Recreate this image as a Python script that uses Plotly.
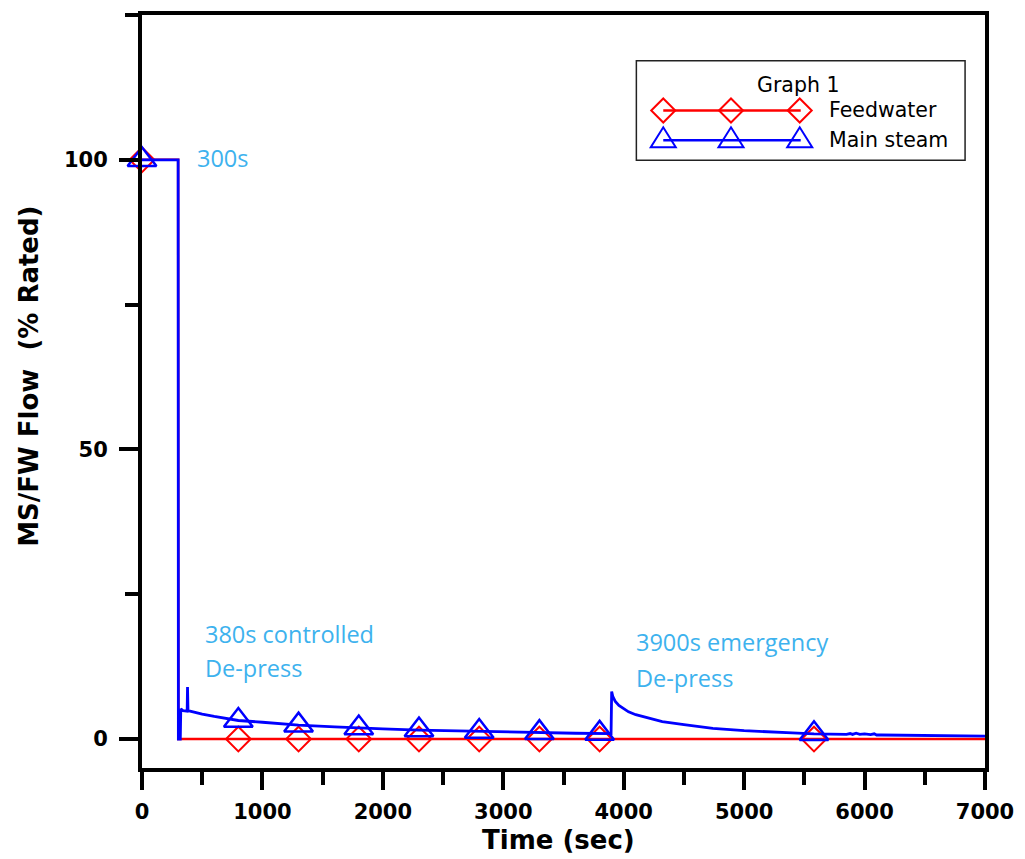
import plotly.graph_objects as go

# ---- data ----
fw_t = [0, 300, 302, 7000]
fw_v = [100, 100, 0, 0]

ms_t = [0, 300, 302, 318, 322, 340, 375, 378, 382, 400, 500, 600, 800, 1000, 1300, 1600,
        1800, 2000, 2300, 2600, 2800, 3000, 3300, 3600, 3895, 3900, 3910, 3930, 3960, 4000,
        4040, 4100, 4200, 4320, 4500, 4740, 5000, 5160, 5400, 5580, 5800, 5850, 5880, 5900,
        5930, 5960, 6000, 6050, 6080, 6100, 6140, 6500, 7000]
ms_v = [100, 100, 0, 0, 5.2, 4.9, 4.8, 9.0, 4.9, 4.8, 4.3, 3.9, 3.2, 2.9, 2.4, 2.1,
        1.9, 1.75, 1.55, 1.4, 1.3, 1.2, 1.1, 1.0, 0.95, 8.2, 7.3, 6.5, 5.8, 5.2,
        4.7, 4.2, 3.6, 3.0, 2.5, 1.85, 1.45, 1.25, 1.05, 0.9, 0.85, 0.8, 0.95, 0.8,
        1.0, 0.8, 0.9, 0.75, 0.9, 0.7, 0.7, 0.6, 0.5]

mk_t = [0, 800, 1300, 1800, 2300, 2800, 3300, 3800, 5580]
fw_mk = [100, 0, 0, 0, 0, 0, 0, 0, 0]
ms_mk = [100, 3.2, 2.4, 1.9, 1.55, 1.3, 1.1, 0.97, 0.9]

x_ticks = [0, 1000, 2000, 3000, 4000, 5000, 6000, 7000]
y_ticks = [0, 50, 100]

notes = [("300s", 441, 100.3), ("380s controlled", 507, 18.1), ("De-press", 507, 12.2),
         ("3900s emergency", 4087, 16.7), ("De-press", 4087, 10.5)]

RED = "#FF0000"
BLUE = "#0000FF"
NOTE = "#3DB2EE"

fig = go.Figure()
fig.add_trace(go.Scatter(x=fw_t, y=fw_v, mode="lines", line=dict(color=RED, width=2.5),
                         showlegend=False, cliponaxis=False))
fig.add_trace(go.Scatter(x=mk_t, y=fw_mk, mode="markers", showlegend=False, cliponaxis=False,
                         marker=dict(symbol="diamond-open", size=19, color=RED,
                                     line=dict(color=RED, width=2))))
fig.add_trace(go.Scatter(x=ms_t, y=ms_v, mode="lines", line=dict(color=BLUE, width=2.8),
                         showlegend=False, cliponaxis=False))
fig.add_trace(go.Scatter(x=mk_t, y=ms_mk, mode="markers", showlegend=False, cliponaxis=False,
                         marker=dict(symbol="triangle-up-open", size=25, color=BLUE,
                                     line=dict(color=BLUE, width=2.5))))

axis_font = dict(family="DejaVu Sans", size=21, color="black", weight="bold")

fig.update_layout(
    width=1025, height=859,
    margin=dict(l=142, r=37, t=11, b=91),
    plot_bgcolor="white", paper_bgcolor="white",
    xaxis=dict(range=[0, 7000], tickvals=x_ticks, ticktext=[str(v) for v in x_ticks],
               showgrid=False, zeroline=False, showline=True, mirror=True,
               linecolor="black", linewidth=4, ticks="outside", ticklen=18, tickwidth=4,
               tickcolor="black", tickfont=axis_font, ticklabelstandoff=4,
               minor=dict(dtick=500, tick0=0, ticks="outside", ticklen=13, tickwidth=4,
                          tickcolor="black", showgrid=False)),
    yaxis=dict(range=[-5, 125], tickvals=y_ticks, ticktext=[str(v) for v in y_ticks],
               showgrid=False, zeroline=False, showline=True, mirror=True,
               linecolor="black", linewidth=4, ticks="outside", ticklen=19, tickwidth=4,
               tickcolor="black", tickfont=axis_font, ticklabelstandoff=7,
               minor=dict(dtick=25, tick0=0, ticks="outside", ticklen=13, tickwidth=4,
                          tickcolor="black", showgrid=False)),
)

# axis titles
fig.add_annotation(text="Time (sec)", xref="paper", yref="paper", x=0.4943, y=-0.0951,
                   xanchor="center", yanchor="middle", showarrow=False,
                   font=dict(family="DejaVu Sans", size=26, color="black", weight="bold"))
fig.add_annotation(text="MS/FW Flow\u00a0 (% Rated)", xref="paper", yref="paper",
                   x=-0.1343, y=0.5205, xanchor="center", yanchor="middle", textangle=-90,
                   showarrow=False,
                   font=dict(family="DejaVu Sans", size=26, color="black", weight="bold"))

for txt, xx, yy in notes:
    fig.add_annotation(text=txt, x=xx, y=yy, xref="x", yref="y", xanchor="left",
                       yanchor="middle", showarrow=False,
                       font=dict(family="Open Sans", size=23.5, color=NOTE))

# custom legend (decoration)
def px_x(p):
    return (p - 141.7) / 846.3

def px_y(p):
    return (768 - p) / 757

fig.add_shape(type="rect", xref="paper", yref="paper", x0=px_x(638), x1=px_x(968),
              y0=px_y(157), y1=px_y(57), line=dict(color="#222222", width=1.5),
              fillcolor="white", layer="above")
fig.add_annotation(text="Graph 1", xref="paper", yref="paper", x=px_x(800), y=px_y(81),
                   xanchor="center", yanchor="middle", showarrow=False,
                   font=dict(family="DejaVu Sans", size=20.5, color="black"))
leg = [("Feedwater", RED, 107, "diamond"), ("Main steam", BLUE, 137, "triangle")]
for name, col, py, sym in leg:
    fig.add_shape(type="line", xref="paper", yref="paper", x0=px_x(665), x1=px_x(803),
                  y0=px_y(py), y1=px_y(py), line=dict(color=col, width=2.5), layer="above")
    for mx in (665, 733, 802):
        if sym == "diamond":
            path = "M -12,0 L 0,12 L 12,0 L 0,-12 Z"
        else:
            path = "M -12.5,-7 L 12.5,-7 L 0,13 Z"
        fig.add_shape(type="path", xref="paper", yref="paper", xsizemode="pixel",
                      ysizemode="pixel", xanchor=px_x(mx), yanchor=px_y(py), path=path,
                      line=dict(color=col, width=2), layer="above")
    fig.add_annotation(text=name, xref="paper", yref="paper", x=px_x(829), y=px_y(py),
                       xanchor="left", yanchor="middle", showarrow=False,
                       font=dict(family="DejaVu Sans", size=20.5, color="black"))

fig.write_html("out.html")
